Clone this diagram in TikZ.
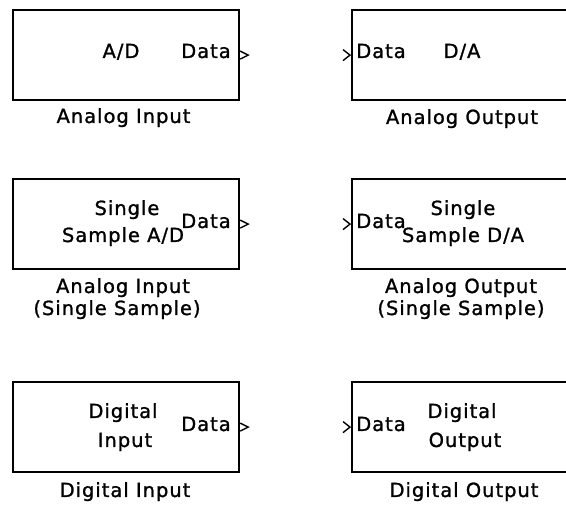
\documentclass[tikz,border=0pt]{standalone}
\usepackage{fontspec}
\setmainfont{DejaVu Sans}[LetterSpace=5,FakeBold=1.2]
\begin{document}
\begin{tikzpicture}[x=1pt,y=-1pt,
  blk/.style={draw=black, line width=2.2pt, fill=white, minimum width=226pt, minimum height=90pt, inner sep=0pt, anchor=north west},
  txt/.style={anchor=base, inner sep=0pt, font=\fontsize{19.5}{21}\selectfont},
  outport/.style={draw=black, line width=1.4pt, line join=miter},
  inport/.style={draw=black, line width=1.4pt}]
\path[use as bounding box] (0,0) rectangle (566,505);
\clip (0,0) rectangle (566,505);
% blocks
\node[blk] (ai)  at (12,9)   {};
\node[blk] (ao)  at (351,9)  {};
\node[blk] (ais) at (12,178) {};
\node[blk] (aos) at (351,178){};
\node[blk] (di)  at (12,381) {};
\node[blk] (do)  at (351,381){};
% output ports
\foreach \b in {ai,ais,di}{
  \draw[outport] (\b.east) ++(0,-4) -- ++(8,4) -- ++(-8,4);
}
% input ports
\foreach \b in {ao,aos,do}{
  \draw[inport] (\b.west) ++(-8,-5.5) -- ++(7,5.5) -- ++(-7,5.5);
}
% row 1
\node[txt] (t1a) at (121,58) {A/D};
\node[txt] (t1b) at (206,58) {Data};
\node[txt] (l1)  at (123.5,123) {Analog Input};
\node[txt] (t1c) at (381,58) {Data};
\node[txt] (t1d) at (462,58) {D/A};
\node[txt] (l2)  at (462,124) {Analog Output};
% row 2
\node[txt] (t2a) at (127,215) {Single};
\node[txt] (t2b) at (123,242) {Sample A/D};
\node[txt] (t2c) at (206,228) {Data};
\node[txt] (l3a) at (123,293) {Analog Input};
\node[txt] (l3b) at (117,315) {(Single Sample)};
\node[txt] (t2d) at (381,228) {Data};
\node[txt] (t2e) at (463,215) {Single};
\node[txt] (t2f) at (463,242) {Sample D/A};
\node[txt] (l4a) at (461,293) {Analog Output};
\node[txt] (l4b) at (461,315) {(Single Sample)};
% row 3
\node[txt] (t3a) at (123,418) {Digital};
\node[txt] (t3b) at (125,447) {Input};
\node[txt] (t3c) at (206,431) {Data};
\node[txt] (l5)  at (125,497) {Digital Input};
\node[txt] (t3d) at (381,431) {Data};
\node[txt] (t3e) at (462,418) {Digital};
\node[txt] (t3f) at (465,447) {Output};
\node[txt] (l6)  at (464,497) {Digital Output};
\end{tikzpicture}
\end{document}
